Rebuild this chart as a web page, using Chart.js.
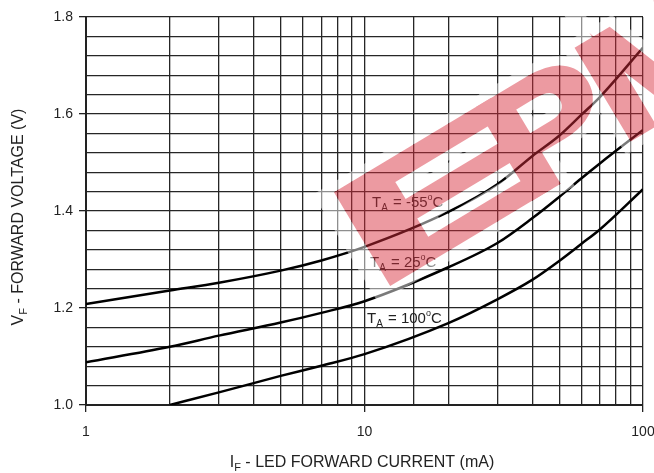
<!DOCTYPE html>
<html>
<head>
<meta charset="utf-8">
<script src="https://cdn.jsdelivr.net/npm/chart.js@4"></script>
<style>
  html, body { margin: 0; padding: 0; background: #fff; }
  #wrap { width: 654px; height: 473px; }
</style>
</head>
<body>
<div id="wrap"><canvas id="vfChart"></canvas></div>
<script>
// forward current (mA)
const currentMA = [1, 2, 3, 5, 7, 10, 20, 30, 40, 50, 60, 70, 100];
// forward voltage (V) per ambient temperature
const vfMinus55 = [1.208, 1.236, 1.252, 1.277, 1.298, 1.326, 1.398, 1.455, 1.513, 1.555, 1.598, 1.635, 1.737];
const vf25      = [1.088, 1.120, 1.143, 1.170, 1.190, 1.214, 1.284, 1.334, 1.385, 1.429, 1.467, 1.498, 1.567];
const vf100     = [null, 1.000, 1.026, 1.060, 1.081, 1.105, 1.169, 1.218, 1.258, 1.297, 1.332, 1.362, 1.445];

const seriesLabels = ['-55', '25', '100'];
const xTickLabels = [1, 10, 100];
const yTickLabels = [1.0, 1.2, 1.4, 1.6, 1.8];

const FONT = '"Liberation Sans", Arial, sans-serif';

function toPoints(vals) {
    return currentMA.map((c, i) => ({ x: c, y: vals[i] })).filter(p => p.y !== null);
}

function isMajorY(v) {
    return yTickLabels.some(t => Math.abs(t - v) < 1e-6);
}

// T_A = xx°C with subscript / superscript
function drawTempLabel(ctx, x, y, temp) {
    ctx.save();
    ctx.fillStyle = '#222';
    ctx.textBaseline = 'alphabetic';
    ctx.textAlign = 'left';
    let cx = x;
    ctx.font = '15px ' + FONT;
    ctx.fillText('T', cx, y); cx += ctx.measureText('T').width;
    ctx.font = '10px ' + FONT;
    ctx.fillText('A', cx, y + 4); cx += ctx.measureText('A').width + 1;
    ctx.font = '15px ' + FONT;
    const mid = ' = ' + temp;
    ctx.fillText(mid, cx, y); cx += ctx.measureText(mid).width;
    ctx.font = '9px ' + FONT;
    ctx.fillText('o', cx, y - 7); cx += ctx.measureText('o').width;
    ctx.font = '15px ' + FONT;
    ctx.fillText('C', cx, y);
    ctx.restore();
}

const labelPlugin = {
    id: 'labels',
    afterDatasetsDraw(chart) {
        const ctx = chart.ctx;
        const pos = [[372, 207], [370, 267], [367, 323]];
        seriesLabels.forEach((t, i) => drawTempLabel(ctx, pos[i][0], pos[i][1], t));

        // axis titles (with the F subscripts)
        ctx.save();
        ctx.fillStyle = '#222';
        ctx.textBaseline = 'alphabetic';
        ctx.font = '11px ' + FONT;
        const wSub = ctx.measureText('F').width;
        ctx.font = '16px ' + FONT;
        const xt1 = 'I', xt2 = ' - LED FORWARD CURRENT (mA)';
        const wTot = ctx.measureText(xt1).width + wSub + ctx.measureText(xt2).width;
        let cx = 362 - wTot / 2;
        ctx.fillText(xt1, cx, 467); cx += ctx.measureText(xt1).width;
        ctx.font = '11px ' + FONT;
        ctx.fillText('F', cx, 471); cx += wSub;
        ctx.font = '16px ' + FONT;
        ctx.fillText(xt2, cx, 467);

        ctx.translate(23, 217);
        ctx.rotate(-Math.PI / 2);
        const yt1 = 'V', yt2 = ' - FORWARD VOLTAGE (V)';
        const wTotY = ctx.measureText(yt1).width + wSub + ctx.measureText(yt2).width;
        cx = -wTotY / 2;
        ctx.fillText(yt1, cx, 0); cx += ctx.measureText(yt1).width;
        ctx.font = '11px ' + FONT;
        ctx.fillText('F', cx, 4); cx += wSub;
        ctx.font = '16px ' + FONT;
        ctx.fillText(yt2, cx, 0);
        ctx.restore();
    }
};

// red diagonal watermark sitting over the plot
const watermarkPlugin = {
    id: 'watermark',
    afterDraw(chart) {
        const dpr = chart.currentDevicePixelRatio;
        const off = document.createElement('canvas');
        off.width = chart.canvas.width;
        off.height = chart.canvas.height;
        const c = off.getContext('2d');
        c.scale(dpr, dpr);
        c.translate(376, 291);
        c.rotate(-31 * Math.PI / 180);
        c.font = 'bold 150px ' + FONT;
        c.lineJoin = 'miter';
        const letters = [['E', 0, 2.1], ['P', 172, 1.2], ['M', 287, 1.2]];
        const each = fn => letters.forEach(([ch, u, sx]) => {
            c.save(); c.translate(u, 0); c.scale(sx, 1); fn(ch); c.restore();
        });
        c.lineWidth = 24;
        c.strokeStyle = '#fff';
        each(ch => c.strokeText(ch, 0, 0));
        c.globalCompositeOperation = 'destination-out';
        c.lineWidth = 6;
        c.fillStyle = '#000';
        c.strokeStyle = '#000';
        each(ch => { c.fillText(ch, 0, 0); c.strokeText(ch, 0, 0); });
        c.globalCompositeOperation = 'source-over';
        c.fillStyle = 'rgb(215,45,60)';
        c.strokeStyle = 'rgb(215,45,60)';
        each(ch => { c.fillText(ch, 0, 0); c.strokeText(ch, 0, 0); });

        const ctx = chart.ctx;
        ctx.save();
        ctx.setTransform(1, 0, 0, 1, 0, 0);
        ctx.globalAlpha = 0.48;
        ctx.drawImage(off, 0, 0);
        ctx.restore();
    }
};

const lineStyle = {
    borderColor: '#000',
    borderWidth: 2.5,
    pointRadius: 0,
    fill: false,
    cubicInterpolationMode: 'monotone'
};

new Chart(document.getElementById('vfChart'), {
    type: 'line',
    data: {
        datasets: [
            Object.assign({ label: 'TA = -55°C', data: toPoints(vfMinus55) }, lineStyle),
            Object.assign({ label: 'TA = 25°C', data: toPoints(vf25) }, lineStyle),
            Object.assign({ label: 'TA = 100°C', data: toPoints(vf100) }, lineStyle)
        ]
    },
    options: {
        responsive: true,
        maintainAspectRatio: false,
        animation: false,
        layout: { padding: { top: 17, right: 2, left: 0, bottom: 0 } },
        plugins: {
            legend: { display: false },
            tooltip: { enabled: false }
        },
        scales: {
            x: {
                type: 'logarithmic',
                min: 1,
                max: 100,
                afterFit: s => { s.height = 68; s.paddingRight = 11; s.paddingLeft = 0; },
                border: { color: '#222', width: 2 },
                grid: {
                    color: '#262626',
                    lineWidth: 1.3,
                    tickLength: 7,
                    tickColor: ctx => xTickLabels.includes(ctx.tick && ctx.tick.value) ? '#222' : 'rgba(0,0,0,0)'
                },
                ticks: {
                    autoSkip: false,
                    maxRotation: 0,
                    padding: 12,
                    color: '#222',
                    font: { family: FONT, size: 14 },
                    callback: v => xTickLabels.includes(v) ? String(v) : ''
                }
            },
            y: {
                min: 1.0,
                max: 1.8,
                afterFit: s => { s.width = 86; },
                border: { color: '#222', width: 2 },
                grid: {
                    color: '#262626',
                    lineWidth: 1.3,
                    tickLength: 7,
                    tickColor: ctx => ctx.tick && isMajorY(ctx.tick.value) ? '#222' : 'rgba(0,0,0,0)'
                },
                ticks: {
                    stepSize: 0.04,
                    autoSkip: false,
                    padding: 6,
                    color: '#222',
                    font: { family: FONT, size: 14 },
                    callback: v => isMajorY(v) ? v.toFixed(1) : ''
                }
            }
        }
    },
    plugins: [labelPlugin, watermarkPlugin]
});
</script>
</body>
</html>
